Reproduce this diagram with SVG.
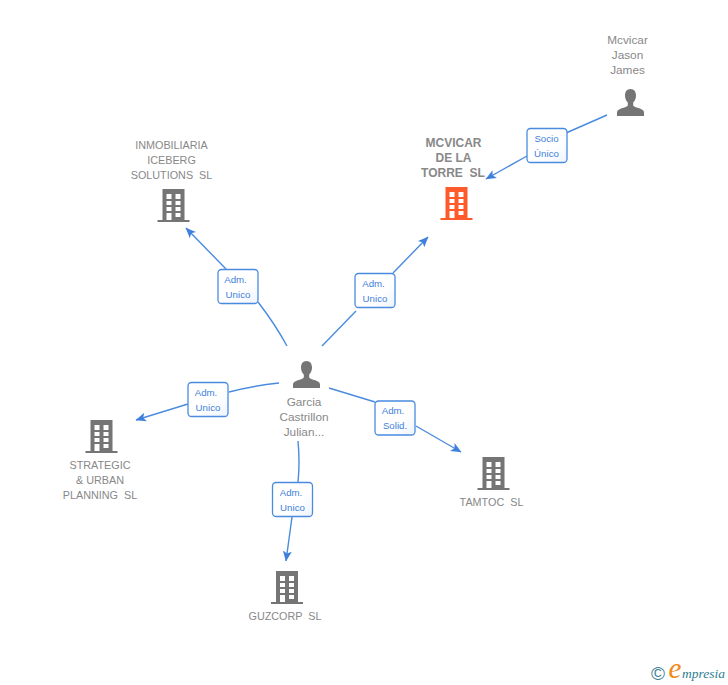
<svg xmlns="http://www.w3.org/2000/svg" xmlns:xlink="http://www.w3.org/1999/xlink" width="728" height="685" viewBox="0 0 728 685">
<style>
text{font-family:"Liberation Sans",Arial,sans-serif;text-anchor:middle}
.n{font-size:11.8px;fill:#888}
.k{font-size:10.8px;fill:#888}
.b{font-weight:bold;font-size:12px}
.l{font-size:9.7px;fill:#3f7fdc}
.c{fill:none;stroke:#4a8be0;stroke-width:1.4}
.box{fill:url(#g);stroke:#4a8be0;stroke-width:1.3}
</style>
<defs>
<linearGradient id="g" x1="0" y1="0" x2="1" y2="1"><stop offset="0" stop-color="#fff"/><stop offset="0.6" stop-color="#fff"/><stop offset="1" stop-color="#eef4fc"/></linearGradient>
<marker id="a" markerWidth="11" markerHeight="10" refX="10" refY="5" orient="auto" markerUnits="userSpaceOnUse"><path d="M0 0.500L10.500 5L0 9.500L2.500 5Z" fill="#3f80dd"/></marker>
<symbol id="bld" viewBox="0 0 32 33" width="32" height="33" overflow="visible">
<path fill-rule="evenodd" d="M5 0H27V31H32V33H0V31H5ZM9 5V10H14V5ZM18 5V10H23V5ZM9 12V16H14V12ZM18 12V16H23V12ZM9 18V22H14V18ZM18 18V22H23V18ZM9 24V31H14V24ZM18 24V28H23V24Z"/>
</symbol>
<symbol id="per" viewBox="0 0 27 27" width="27" height="27" overflow="visible">
<path d="M13.500 0C10 0 8 2.800 8 6.500C8 9.500 9.200 12 10.800 13.600V16.200C10.800 17.200 9 17.800 6.500 18.800C3 20 0.400 20.800 0 23V27H27V23C26.600 20.800 24 20 20.500 18.800C18 17.800 16.200 17.200 16.200 16.200V13.600C17.800 12 19 9.500 19 6.500C19 2.800 17 0 13.500 0Z"/>
</symbol>
</defs>
<rect width="728" height="685" fill="#fff"/>
<g id="connectors">
<path class="c" d="M607 115L566 133"/><path class="c" d="M527 156L486 179" marker-end="url(#a)"/>
<path class="c" d="M322 346L356 311"/><path class="c" d="M393 273L428 237" marker-end="url(#a)"/>
<path class="c" d="M287 346Q275 324 258 302"/><path class="c" d="M226 269L186 228" marker-end="url(#a)"/>
<path class="c" d="M279 383Q252 386 229 392"/><path class="c" d="M188 404L136 420" marker-end="url(#a)"/>
<path class="c" d="M329 388L375 402"/><path class="c" d="M416 426L461 452" marker-end="url(#a)"/>
<path class="c" d="M298 441Q300 462 298 482"/><path class="c" d="M292 517L286 561" marker-end="url(#a)"/>
</g>
<g id="edge-labels">
<g><rect class="box" x="527" y="128.500" width="40" height="34" rx="3.500"/><text class="l" x="546.500" y="142">Socio</text><text class="l" x="546.500" y="156.500">Único</text></g>
<g><rect class="box" x="355" y="273.500" width="40" height="34" rx="3.500"/><text class="l" x="373.500" y="286.500">Adm.</text><text class="l" x="375" y="301.500">Unico</text></g>
<g><rect class="box" x="218" y="269.500" width="40" height="34" rx="3.500"/><text class="l" x="235.500" y="282.500">Adm.</text><text class="l" x="238" y="297.500">Unico</text></g>
<g><rect class="box" x="188" y="382.500" width="40" height="34" rx="3.500"/><text class="l" x="206" y="395.500">Adm.</text><text class="l" x="208" y="410.500">Unico</text></g>
<g><rect class="box" x="375" y="401" width="40" height="34" rx="3.500"/><text class="l" x="393" y="413.500">Adm.</text><text class="l" x="395" y="428.500">Solid.</text></g>
<g><rect class="box" x="272.500" y="482.500" width="40" height="34" rx="3.500"/><text class="l" x="291" y="495.500">Adm.</text><text class="l" x="292.500" y="510.500">Unico</text></g>
</g>
<g id="mcvicar-torre"><use xlink:href="#bld" href="#bld" x="440.500" y="187" fill="#ff5a2c"/><text class="n b" x="453.500" y="147">MCVICAR</text><text class="n b" x="453.500" y="162">DE LA</text><text class="n b" x="453" y="177">TORRE &#160;SL</text></g>
<g id="mcvicar-person"><use xlink:href="#per" href="#per" x="617" y="89" fill="#757575"/><text class="n" x="627.500" y="44">Mcvicar</text><text class="n" x="627.500" y="59">Jason</text><text class="n" x="627.500" y="74">James</text></g>
<g id="inmobiliaria"><use xlink:href="#bld" href="#bld" x="157.500" y="189" fill="#757575"/><text class="k" x="171.500" y="149">INMOBILIARIA</text><text class="k" x="171.500" y="164">ICEBERG</text><text class="k" x="171.500" y="179">SOLUTIONS &#160;SL</text></g>
<g id="garcia"><use xlink:href="#per" href="#per" x="293" y="361" fill="#757575"/><text class="n" x="304" y="406">Garcia</text><text class="n" x="304" y="421">Castrillon</text><text class="n" x="304" y="436">Julian...</text></g>
<g id="strategic"><use xlink:href="#bld" href="#bld" x="85.500" y="420" fill="#757575"/><text class="k" x="100" y="469">STRATEGIC</text><text class="k" x="100" y="484">&amp; URBAN</text><text class="k" x="100" y="499">PLANNING &#160;SL</text></g>
<g id="tamtoc"><use xlink:href="#bld" href="#bld" x="477.500" y="457" fill="#757575"/><text class="k" x="491.500" y="506">TAMTOC &#160;SL</text></g>
<g id="guzcorp"><use xlink:href="#bld" href="#bld" x="271" y="571" fill="#757575"/><text class="k" x="285" y="620">GUZCORP &#160;SL</text></g>
<g id="logo"><text x="658" y="680" style="font-size:19px;fill:#3f7f95">©</text><text x="675" y="678" style="font-family:'Liberation Serif',serif;font-style:italic;font-size:29px;fill:#f28a1c">e</text><text x="703.500" y="678" style="font-family:'Liberation Serif',serif;font-style:italic;font-size:13.500px;fill:#2f7d8f">mpresia</text></g>
</svg>
